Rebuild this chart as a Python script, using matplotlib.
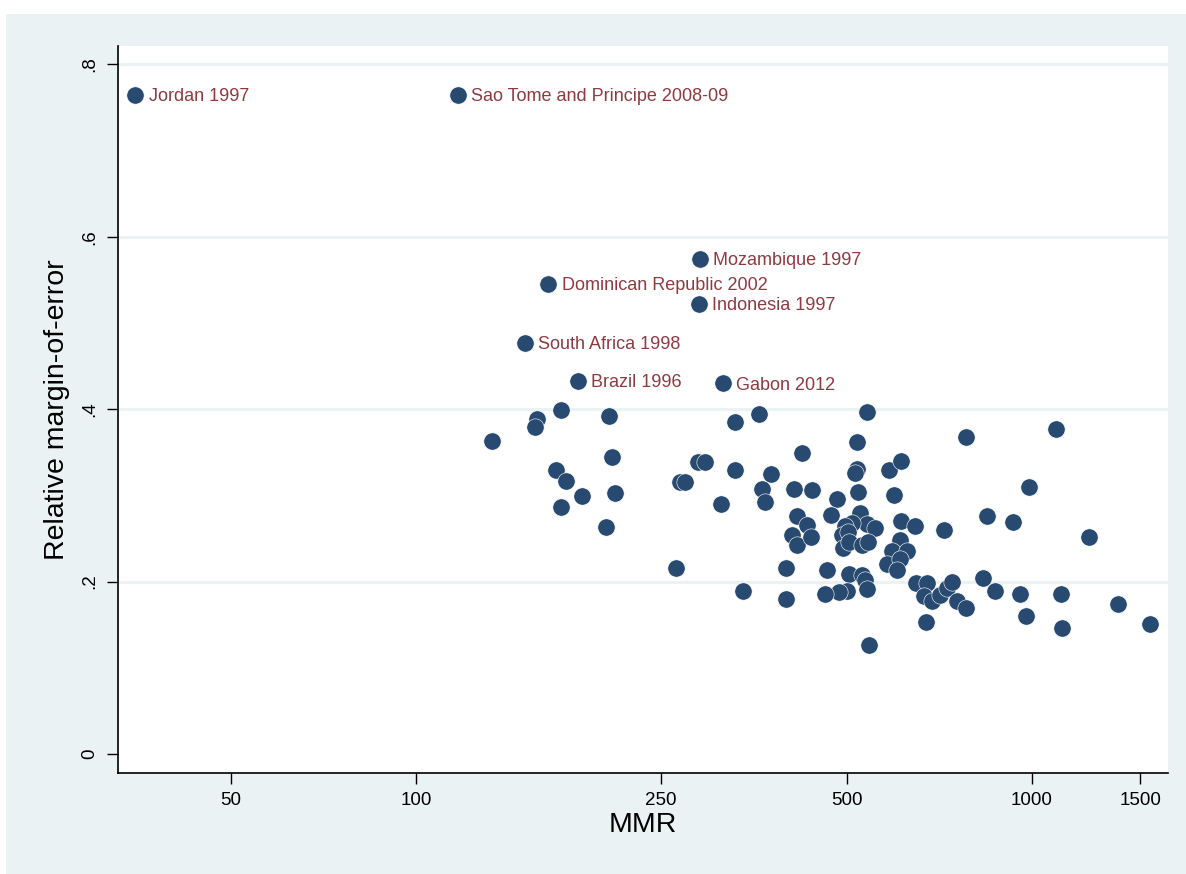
import matplotlib
matplotlib.use("Agg")
import matplotlib.pyplot as plt
from matplotlib.patches import Rectangle
from matplotlib.ticker import NullLocator

plt.rcParams['font.family'] = ['Liberation Sans', 'DejaVu Sans']

# labelled surveys
lab_names = ["Jordan 1997", "Sao Tome and Principe 2008-09", "Mozambique 1997",
             "Dominican Republic 2002", "Indonesia 1997", "South Africa 1998",
             "Brazil 1996", "Gabon 2012"]
lab_mmr = [35, 117, 289, 164, 288, 150, 183, 315]
lab_moe = [0.765, 0.765, 0.574, 0.545, 0.522, 0.477, 0.433, 0.430]

# the other surveys
mmr = [133, 157, 156, 172, 206, 208, 169, 175, 186, 172, 210, 203, 268, 273,
       287, 295, 330, 360, 330, 377, 365, 368, 313, 264, 340, 399, 399, 410,
       416, 408, 416, 423, 539, 519, 519, 516, 587, 613, 440, 483, 522, 598,
       432, 437, 471, 526, 539, 556, 510, 497, 491, 502, 494, 505, 529, 542,
       612, 646, 721, 611, 592, 626, 581, 611, 603, 465, 504, 529, 536, 540,
       500, 486, 462, 647, 675, 668, 687, 708, 727, 741, 755, 780, 672, 544,
       780, 1094, 988, 844, 932, 1239, 832, 870, 955, 977, 1113, 1120, 1378, 1555]
moe = [0.363, 0.389, 0.379, 0.399, 0.392, 0.344, 0.329, 0.317, 0.299, 0.287,
       0.303, 0.263, 0.316, 0.316, 0.339, 0.339, 0.385, 0.394, 0.329, 0.325,
       0.307, 0.292, 0.290, 0.216, 0.189, 0.216, 0.180, 0.308, 0.276, 0.254,
       0.243, 0.349, 0.397, 0.362, 0.331, 0.326, 0.330, 0.340, 0.306, 0.296,
       0.304, 0.301, 0.266, 0.252, 0.277, 0.280, 0.267, 0.262, 0.268, 0.264,
       0.254, 0.258, 0.239, 0.246, 0.243, 0.246, 0.270, 0.265, 0.260, 0.248,
       0.235, 0.235, 0.221, 0.226, 0.213, 0.214, 0.209, 0.208, 0.202, 0.192,
       0.189, 0.188, 0.186, 0.198, 0.198, 0.183, 0.177, 0.185, 0.193, 0.200,
       0.178, 0.169, 0.153, 0.126, 0.368, 0.377, 0.310, 0.276, 0.269, 0.252,
       0.204, 0.189, 0.186, 0.160, 0.186, 0.146, 0.174, 0.151]

xticks = [50, 100, 250, 500, 1000, 1500]
yticks = [0, 0.2, 0.4, 0.6, 0.8]
ylabels = ["0", ".2", ".4", ".6", ".8"]

navy = "#284A70"
maroon = "#8E3A40"
bg = "#EAF2F3"

fig = plt.figure(figsize=(11.86, 8.74), dpi=100, facecolor="white")
fig.patches.append(Rectangle((6 / 1186, 0), 1, 1 - 14 / 874, transform=fig.transFigure,
                             facecolor=bg, edgecolor="none", zorder=-10))
ax = fig.add_axes([118 / 1186, 101 / 874, 1050 / 1186, 727 / 874])
ax.set_facecolor("white")

for y in [0.2, 0.4, 0.6, 0.8]:
    ax.axhline(y, color=bg, lw=2.2, zorder=0)

ax.scatter(mmr + lab_mmr, moe + lab_moe, s=155, color=navy,
           edgecolors="white", linewidths=0.4, zorder=3)
for n, x, y in zip(lab_names, lab_mmr, lab_moe):
    ax.annotate(n, (x, y), xytext=(9.5, -1.2), textcoords="offset points",
                ha="left", va="center", color=maroon, fontsize=13, zorder=4)

ax.set_xscale("log")
ax.set_xlim(32.8, 1663)
ax.set_ylim(-0.022, 0.8213)
ax.set_xticks(xticks)
ax.set_xticklabels([str(t) for t in xticks])
ax.xaxis.set_minor_locator(NullLocator())
ax.set_yticks(yticks)
ax.set_yticklabels(ylabels, rotation=90, va="center")
ax.tick_params(axis="both", direction="out", length=8, width=1, labelsize=13.5,
               pad=6, color="black")

for s in ["top", "right"]:
    ax.spines[s].set_visible(False)
for s in ["left", "bottom"]:
    ax.spines[s].set_linewidth(1.2)

ax.set_xlabel("MMR", fontsize=20.5, labelpad=2)
ax.set_ylabel("Relative margin-of-error", fontsize=20.5, labelpad=8)

fig.savefig("out.png", dpi=100, facecolor=fig.get_facecolor())
